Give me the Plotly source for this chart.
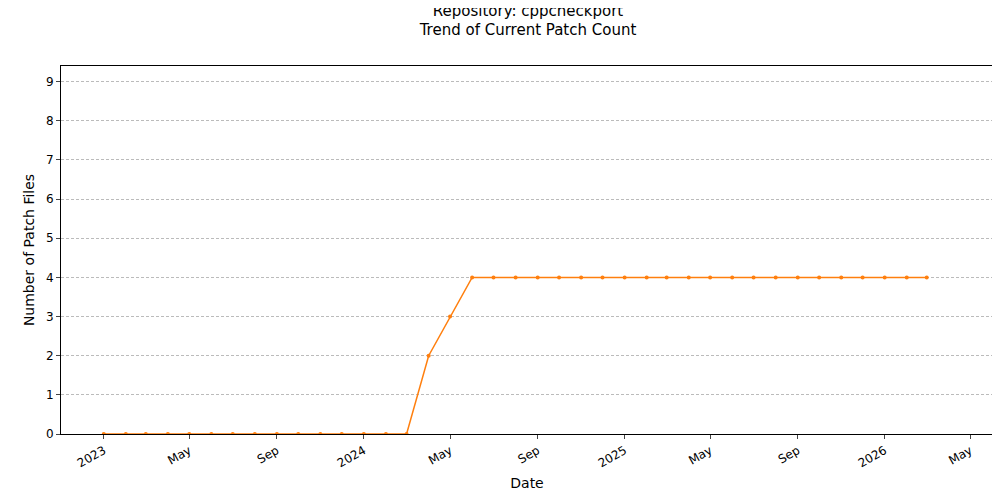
import plotly.graph_objects as go
import pandas as pd

dates = pd.date_range("2023-01-01", "2026-03-01", freq="MS")
values = [0]*15 + [2, 3] + [4]*22
tick_vals = ["2023-01-01","2023-05-01","2023-09-01","2024-01-01","2024-05-01","2024-09-01",
             "2025-01-01","2025-05-01","2025-09-01","2026-01-01","2026-05-01"]
tick_text = ["2023","May","Sep","2024","May","Sep","2025","May","Sep","2026","May"]

fig = go.Figure(go.Scatter(x=dates, y=values, mode="lines+markers",
    line=dict(color="#ff7f0e", width=1.5), marker=dict(size=4, color="#ff7f0e")))
fig.update_layout(
    width=1000, height=500, paper_bgcolor="white", plot_bgcolor="white",
    margin=dict(l=53, r=15, t=58, b=74, autoexpand=False),
    font=dict(family="DejaVu Sans", size=12, color="black"),
    title=dict(text="Repository: cppcheckport<br>Trend of Current Patch Count", x=0.52, xanchor="center",
               y=0.985, yanchor="top", font=dict(size=15)),
    showlegend=False,
)
fig.update_xaxes(range=["2022-11-02","2026-06-02"], tickvals=tick_vals, ticktext=tick_text,
    tickangle=-30, showgrid=False, showline=True, linecolor="black", mirror=True, automargin=False,
    ticks="outside", ticklen=4, title=dict(text="Date", standoff=8))
fig.update_yaxes(range=[0, 9.4], tickvals=list(range(10)), showgrid=True, gridcolor="#bbbbbb",
    griddash="3px,2px", gridwidth=0.6, showline=True, linecolor="black", mirror=True, automargin=False,
    ticks="outside", ticklen=4, zeroline=False, title=dict(text="Number of Patch Files", standoff=8))
fig.write_html("out.html")
